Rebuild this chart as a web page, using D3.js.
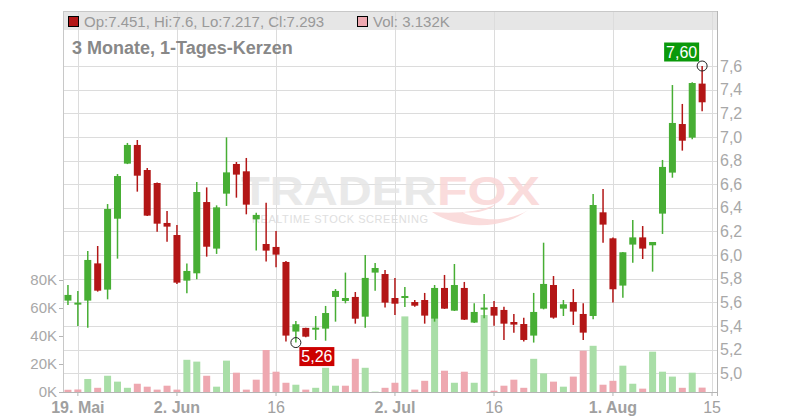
<!DOCTYPE html>
<html><head><meta charset="utf-8">
<script src="https://cdn.jsdelivr.net/npm/d3@7"></script>
<style>body{margin:0;background:#fff}svg{display:block;font-family:"Liberation Sans",Arial,sans-serif}</style>
</head><body><svg id="c" width="800" height="420"></svg>
<script>
// ---------- DATA ----------
const dates = [
 "2025-05-16","2025-05-19","2025-05-20","2025-05-21","2025-05-22","2025-05-23",
 "2025-05-26","2025-05-27","2025-05-28","2025-05-29","2025-05-30",
 "2025-06-02","2025-06-03","2025-06-04","2025-06-05","2025-06-06",
 "2025-06-09","2025-06-10","2025-06-11","2025-06-12","2025-06-13",
 "2025-06-16","2025-06-17","2025-06-18","2025-06-19","2025-06-20",
 "2025-06-23","2025-06-24","2025-06-25","2025-06-26","2025-06-27",
 "2025-06-30","2025-07-01","2025-07-02","2025-07-03","2025-07-04",
 "2025-07-07","2025-07-08","2025-07-09","2025-07-10","2025-07-11",
 "2025-07-14","2025-07-15","2025-07-16","2025-07-17","2025-07-18",
 "2025-07-21","2025-07-22","2025-07-23","2025-07-24","2025-07-25",
 "2025-07-28","2025-07-29","2025-07-30","2025-07-31","2025-08-01",
 "2025-08-04","2025-08-05","2025-08-06","2025-08-07","2025-08-08",
 "2025-08-11","2025-08-12","2025-08-13","2025-08-14"];
const axisEndDate = "2025-08-15";
const open  = [5.615,5.581,5.615,5.930,5.708,6.308,6.774,6.932,6.720,6.610,6.272,6.170,5.784,5.846,6.449,6.055,6.520,6.771,6.709,6.303,
  6.094,6.069,5.942,5.353,5.384,5.369,5.378,5.646,5.612,5.646,5.479,5.852,5.840,5.637,5.637,5.603,5.620,5.462,5.722,5.530,
  5.722,5.429,5.539,5.561,5.536,5.434,5.417,5.319,5.547,5.747,5.547,5.603,5.502,5.485,6.362,6.142,5.742,6.089,6.150,6.083,
  6.351,6.698,7.109,6.994,7.451];
const high  = [5.747,5.696,6.035,6.077,6.432,6.686,6.949,6.974,6.737,6.615,6.373,6.255,5.930,6.619,6.573,6.421,6.996,6.788,6.822,6.359,
  6.444,6.204,5.950,5.443,5.386,5.485,5.570,5.713,5.852,5.688,6.001,5.933,5.874,5.807,5.730,5.620,5.680,5.747,5.832,5.925,
  5.773,5.592,5.671,5.612,5.564,5.502,5.471,5.680,6.105,5.823,5.620,5.713,5.592,6.517,6.559,6.150,6.026,6.297,6.246,6.111,
  6.805,7.439,7.279,7.462,7.600];
const low   = [5.578,5.400,5.386,5.691,5.626,5.970,6.770,6.537,6.330,6.198,6.114,5.756,5.677,5.795,5.987,6.010,6.416,6.486,6.345,6.038,
  5.945,5.897,5.270,5.260,5.305,5.282,5.276,5.437,5.592,5.420,5.386,5.699,5.556,5.493,5.561,5.564,5.420,5.437,5.545,5.527,
  5.451,5.425,5.465,5.403,5.282,5.344,5.268,5.260,5.541,5.462,5.485,5.409,5.282,5.457,6.105,5.598,5.640,5.936,5.967,5.860,
  6.179,6.655,6.884,6.980,7.217];
const close = [5.663,5.598,5.959,5.699,6.390,6.669,6.932,6.672,6.334,6.266,6.241,5.767,5.866,6.534,6.071,6.404,6.700,6.681,6.427,6.340,
  6.038,6.004,5.319,5.415,5.310,5.386,5.510,5.697,5.637,5.462,5.807,5.891,5.598,5.589,5.654,5.572,5.488,5.722,5.547,5.747,
  5.454,5.519,5.556,5.488,5.420,5.412,5.282,5.519,5.756,5.471,5.584,5.522,5.344,6.424,6.258,5.711,6.024,6.150,6.055,6.111,
  6.746,7.118,6.968,7.456,7.293];
const volumeK = [1.6,1.8,9.3,3.0,11.6,7.4,3.0,5.9,3.8,1.7,4.5,1.7,23.0,21.7,11.6,3.8,22.4,13.8,1.7,8.8,
  30.0,14.5,6.6,5.2,1.7,3.0,17.3,4.5,4.5,23.7,17.3,0.3,3.0,6.6,54.0,1.7,8.0,52.6,15.2,6.6,
  14.5,6.6,55.0,0.9,4.5,8.8,3.0,23.7,13.3,7.4,3.8,11.0,29.5,33.0,5.2,8.0,18.8,5.9,2.4,28.8,
  14.5,11.0,3.0,13.8,3.132];
const prevClose = 5.70;
const priceTicks = [5.0,5.2,5.4,5.6,5.8,6.0,6.2,6.4,6.6,6.8,7.0,7.2,7.4,7.6];
const volumeTicks = [0,20,40,60,80];
const xTickDates  = ["2025-05-19","2025-06-02","2025-06-16","2025-07-02","2025-07-16","2025-08-01","2025-08-15"];
const xTickLabels = ["19. Mai","2. Jun","16","2. Jul","16","1. Aug","15"];
const xTickMonth  = [true,true,false,true,false,true,false];
const legendText = "Op:7.451, Hi:7.6, Lo:7.217, Cl:7.293";
const legendVol = "Vol: 3.132K";
const subtitle = "3 Monate, 1-Tages-Kerzen";

// ---------- CHART ----------
const svg = d3.select("#c");
const L = 63, R = 717, T = 11, B = 392;
const slots = dates.concat([axisEndDate]);
const x = d3.scaleBand().domain(slots).range([L, R]).padding(0);
const bw = x.bandwidth();
const cx = d => x(d) + bw / 2;
const y = d3.scaleLinear().domain([5.0, 7.6]).range([373.3, 66]);
const yv = d3.scaleLinear().domain([0, 80]).range([B, 280]);
const fmt = v => d3.format(".1f")(v).replace(".", ",");

const GREEN = "#47ae34", RED = "#b31616", VG = "#a9dea7", VR = "#eea8b0";

// legend band
svg.append("rect").attr("x", L).attr("y", T).attr("width", R - L).attr("height", 19).attr("fill", "#e6e6e6");

// grid
const g = svg.append("g");
g.selectAll(".hg").data(priceTicks).join("line")
  .attr("x1", L).attr("x2", R).attr("y1", d => Math.round(y(d)) + 0.5).attr("y2", d => Math.round(y(d)) + 0.5)
  .attr("stroke", "#dcdcdc");
g.selectAll(".vg").data(xTickDates).join("line")
  .attr("x1", d => Math.round(cx(d)) + 0.5).attr("x2", d => Math.round(cx(d)) + 0.5)
  .attr("y1", T).attr("y2", B).attr("stroke", "#dcdcdc");

// frame
svg.append("line").attr("x1", L).attr("x2", R).attr("y1", T + 0.5).attr("y2", T + 0.5).attr("stroke", "#c8c8c8");
svg.append("line").attr("x1", L + 0.5).attr("x2", L + 0.5).attr("y1", T).attr("y2", B).attr("stroke", "#c8c8c8");

// watermark
const wm = svg.append("g").attr("opacity", 0.85);
wm.append("text").attr("x", 241).attr("y", 205).attr("font-size", 40).attr("font-weight", "bold")
  .attr("textLength", 196).attr("lengthAdjust", "spacingAndGlyphs").attr("fill", "#e6e6e6").text("TRADER");
wm.append("text").attr("x", 437).attr("y", 205).attr("font-size", 40).attr("font-weight", "bold")
  .attr("textLength", 103).attr("lengthAdjust", "spacingAndGlyphs").attr("fill", "#fad6d6").text("FOX");
wm.append("text").attr("x", 252).attr("y", 223).attr("font-size", 11)
  .attr("textLength", 176).attr("lengthAdjust", "spacing").attr("fill", "#dadada").text("REALTIME STOCK SCREENING");
wm.append("path").attr("d", "M432,212 C455,228 500,232 528,210 C510,222 480,222 462,212 C478,214 490,210 496,204 C480,212 455,214 432,212 Z")
  .attr("fill", "#fad6d6");

// legend
svg.append("rect").attr("x", 68.5).attr("y", 16.5).attr("width", 10).attr("height", 10).attr("fill", RED).attr("stroke", "#000");
svg.append("text").attr("x", 84).attr("y", 26.5).attr("font-size", 15).attr("fill", "#999").text(legendText);
svg.append("rect").attr("x", 357.5).attr("y", 16.5).attr("width", 10).attr("height", 10).attr("fill", VR).attr("stroke", "#000");
svg.append("text").attr("x", 373).attr("y", 26.5).attr("font-size", 15).attr("fill", "#999").text(legendVol);
svg.append("text").attr("x", 72).attr("y", 54).attr("font-size", 18).attr("font-weight", "bold").attr("fill", "#888").text(subtitle);

// volume bars
const vdata = dates.map((d, i) => ({ d, v: volumeK[i], up: close[i] >= (i ? close[i - 1] : prevClose) }));
svg.append("g").selectAll("rect").data(vdata).join("rect")
  .attr("x", d => cx(d.d) - 3.5).attr("width", 7)
  .attr("y", d => yv(d.v)).attr("height", d => B - yv(d.v))
  .attr("fill", d => d.up ? VG : VR);

// candles
const cdata = dates.map((d, i) => ({ d, o: open[i], h: high[i], l: low[i], c: close[i] }));
const cg = svg.append("g").selectAll("g").data(cdata).join("g");
cg.append("line").attr("x1", d => cx(d.d)).attr("x2", d => cx(d.d))
  .attr("y1", d => y(d.h)).attr("y2", d => y(d.l))
  .attr("stroke", d => d.c >= d.o ? GREEN : RED).attr("stroke-width", 1.5);
cg.append("rect").attr("x", d => cx(d.d) - 3.5).attr("width", 7)
  .attr("y", d => y(Math.max(d.o, d.c)))
  .attr("height", d => Math.max(1.5, Math.abs(y(d.o) - y(d.c))))
  .attr("fill", d => d.c >= d.o ? GREEN : RED);

// axes
svg.append("line").attr("x1", L).attr("x2", R).attr("y1", B + 0.5).attr("y2", B + 0.5).attr("stroke", "#b5b5b5");
svg.append("line").attr("x1", R + 0.5).attr("x2", R + 0.5).attr("y1", T).attr("y2", B + 4).attr("stroke", "#b5b5b5");

const ra = svg.append("g").attr("transform", `translate(${R},0)`)
  .call(d3.axisRight(y).tickValues(priceTicks).tickFormat(fmt).tickSize(0).tickPadding(3));
ra.select(".domain").remove();
ra.selectAll("text").attr("font-size", 16).attr("fill", "#a8a8a8").attr("font-family", "Liberation Sans, Arial, sans-serif");

const la = svg.append("g").attr("transform", `translate(${L},0)`)
  .call(d3.axisLeft(yv).tickValues(volumeTicks).tickFormat(d => d + "K").tickSize(4).tickPadding(2));
la.select(".domain").remove();
la.selectAll("line").attr("stroke", "#b5b5b5");
la.selectAll("text").attr("font-size", 15).attr("fill", "#a8a8a8").attr("font-family", "Liberation Sans, Arial, sans-serif");

const ba = svg.append("g").attr("transform", `translate(0,${B})`)
  .call(d3.axisBottom(x).tickValues(xTickDates).tickFormat((d, i) => xTickLabels[i]).tickSize(4).tickPadding(6));
ba.select(".domain").remove();
ba.selectAll("line").attr("stroke", "#b5b5b5");
ba.selectAll("text").attr("font-size", 16).attr("fill", "#a0a0a0").attr("font-family", "Liberation Sans, Arial, sans-serif")
  .attr("font-weight", (d, i) => xTickMonth[i] ? "bold" : "normal");

// high / low markers
const hiIdx = d3.maxIndex(high), loIdx = d3.minIndex(low);
const hx = cx(dates[hiIdx]), hy = y(high[hiIdx]);
const lx = cx(dates[loIdx]), ly = y(low[loIdx]);
svg.append("circle").attr("cx", hx).attr("cy", hy).attr("r", 5).attr("fill", "none").attr("stroke", "#222");
svg.append("circle").attr("cx", lx).attr("cy", ly).attr("r", 5).attr("fill", "none").attr("stroke", "#222");
svg.append("rect").attr("x", hx - 38).attr("y", hy - 23.5).attr("width", 35).attr("height", 19).attr("fill", "#0a990a");
svg.append("text").attr("x", hx - 20.5).attr("y", hy - 8.5).attr("text-anchor", "middle").attr("font-size", 16)
  .attr("fill", "#fff").text(fmt(high[hiIdx]) + "0");
svg.append("rect").attr("x", lx + 3.5).attr("y", ly + 4.5).attr("width", 35).attr("height", 19).attr("fill", "#cc0000");
svg.append("text").attr("x", lx + 21).attr("y", ly + 19.5).attr("text-anchor", "middle").attr("font-size", 16)
  .attr("fill", "#fff").text(d3.format(".2f")(low[loIdx]).replace(".", ","));
</script></body></html>
